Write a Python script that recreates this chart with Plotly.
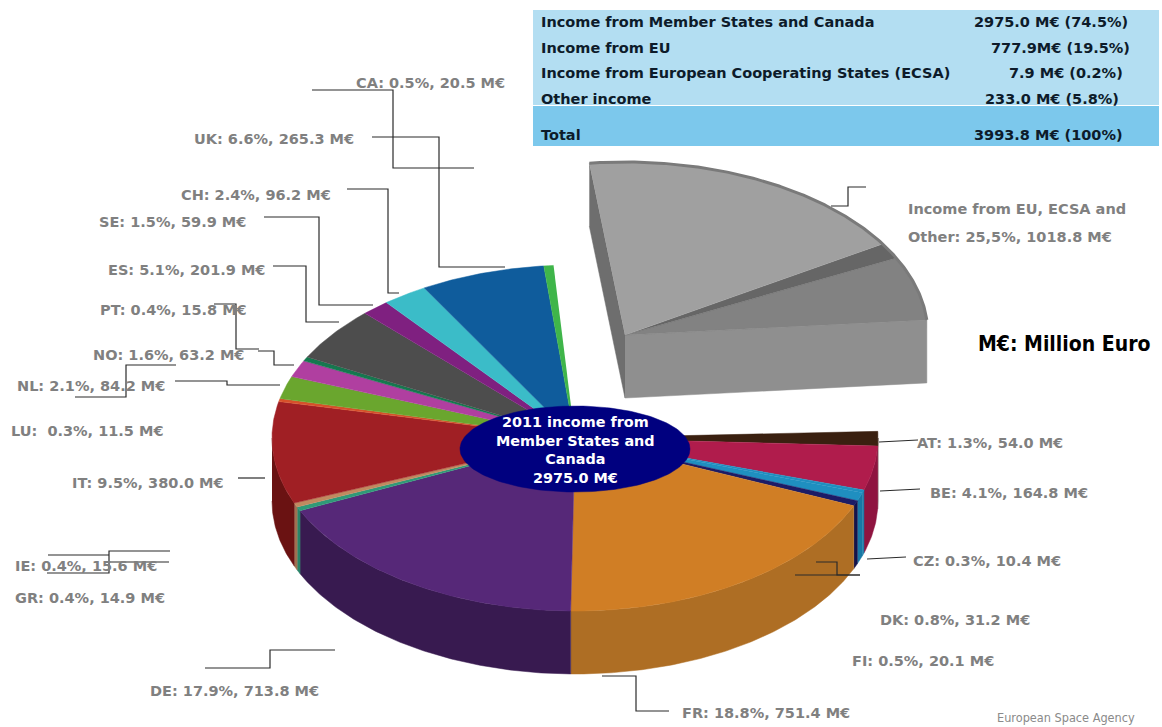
import numpy as np
import plotly.graph_objects as go

# member states, clockwise from the right hand edge of the pie
codes = ["AT", "BE", "CZ", "DK", "FI", "FR", "DE", "GR", "IE", "IT",
         "LU", "NL", "NO", "PT", "ES", "SE", "CH", "UK", "CA"]
values = [54.0, 164.8, 10.4, 31.2, 20.1, 751.4, 713.8, 14.9, 15.6, 380.0,
          11.5, 84.2, 63.2, 15.8, 201.9, 59.9, 96.2, 265.3, 20.5]
shares = ["1.3", "4.1", "0.3", "0.8", "0.5", "18.8", "17.9", "0.4", "0.4", "9.5",
          "0.3", "2.1", "1.6", "0.4", "5.1", "1.5", "2.4", "6.6", "0.5"]
total = 3993.8

# exploded grey piece, counter clockwise (drawn sizes)
grey_names = ["Other income", "ECSA", "EU"]
grey_drawn = [238, 59, 721]

table_names = ["Income from Member States and Canada", "Income from EU",
               "Income from European Cooperating States (ECSA)", "Other income", "Total"]
table_values = ["2975.0 M€ (74.5%)", "777.9M€ (19.5%)", "7.9 M€ (0.2%)",
                "233.0 M€ (5.8%)", "3993.8 M€ (100%)"]
center_text = "2011 income from<br>Member States and<br>Canada<br>2975.0 M€"

top_colors = ["#3a2010", "#b01c4c", "#1f8fc0", "#1f8fc0", "#1c1c66", "#d07e25", "#562878",
              "#2f9a78", "#c08a60", "#a01f24", "#d8502a", "#6aa62e", "#b03fa0", "#15784f",
              "#4d4d4d", "#7f2080", "#3bbcc8", "#0f5c9c", "#3fb54a"]
side_colors = ["#2a1608", "#8f1440", "#1878a5", "#1878a5", "#14144c", "#ae6e24", "#381a50",
               "#2a8468", "#a07050", "#6a1212", "#a03a20", "#55851f", "#8c3080", "#105c3c",
               "#3a3a3a", "#601860", "#2c8f98", "#0a4474", "#2f8a38"]
grey_top = ["#828282", "#666666", "#a0a0a0"]

label_pos = {"CA": (356, 83), "UK": (194, 139), "CH": (181, 195), "SE": (99, 222), "ES": (108, 270),
             "PT": (100, 310), "NO": (93, 355), "NL": (17, 386), "LU": (11, 431), "IT": (72, 483),
             "IE": (15, 566), "GR": (15, 598), "DE": (150, 691), "FR": (682, 713), "FI": (852, 661),
             "DK": (880, 620), "CZ": (913, 561), "BE": (930, 493), "AT": (917, 443)}
table_rows_y = [22, 48, 73, 99, 135]
table_val_x = [974, 991, 1009, 985, 974]

leaders = [
    [(312, 90), (393, 90), (393, 168), (474, 168)],
    [(372, 137), (439, 137), (439, 267), (505, 267)],
    [(347, 189), (388, 189), (388, 293), (399, 293)],
    [(264, 217), (319, 217), (319, 305), (373, 305)],
    [(273, 266), (306, 266), (306, 322), (339, 322)],
    [(214, 304), (236, 304), (236, 349), (259, 349)],
    [(258, 351), (274, 351), (274, 365), (294, 365)],
    [(176, 365), (126, 365), (126, 397), (75, 397)],
    [(175, 381), (227, 381), (227, 385), (280, 385)],
    [(238, 478), (265, 478)],
    [(48, 555), (109, 555)],
    [(170, 551), (109, 551), (109, 573), (47, 573)],
    [(110, 562), (169, 562)],
    [(205, 668), (270, 668), (270, 650), (335, 650)],
    [(602, 676), (636, 676), (636, 711), (669, 711)],
    [(879, 442), (918, 440)],
    [(880, 491), (920, 489)],
    [(867, 559), (906, 557)],
    [(816, 562), (837, 562), (837, 575), (860, 575)],
    [(795, 575), (860, 575)],
    [(831, 206), (848, 206), (848, 187), (866, 187)],
]

CX, CY = 575, 438
RX, RY = 303, 173
DEPTH = 63
START = 2.2


def ell(deg, cx=CX, cy=CY):
    t = np.radians(deg)
    return cx + RX * np.cos(t), cy - RY * np.sin(t)


def arc(a0, a1, cx=CX, cy=CY):
    n = max(int(abs(a1 - a0) * 2), 2)
    return ell(np.linspace(a0, a1, n), cx, cy)


def poly(fig, x, y, color):
    fig.add_trace(go.Scatter(x=list(x), y=list(y), mode="lines", fill="toself", fillcolor=color,
                             line=dict(color=color, width=0.5), hoverinfo="skip", showlegend=False))


def side(fig, a0, a1, color, cx=CX, cy=CY):
    # outer wall of the disc for the part of the arc facing the viewer
    lo, hi = max(min(a0, a1), -180), min(max(a0, a1), 0)
    if lo >= hi:
        return
    x, y = arc(lo, hi, cx, cy)
    poly(fig, np.r_[x, x[::-1]], np.r_[y, y[::-1] + DEPTH], color)


fig = go.Figure()

# exploded piece
GX, GY = 625, 335
g_angles = 5 + np.r_[0, np.cumsum(grey_drawn)] / total * 360
gx0, gy0 = ell(g_angles[-1], GX, GY)
poly(fig, [gx0, GX, GX, gx0], [gy0, GY, GY + DEPTH, gy0 + DEPTH], "#6e6e6e")
rx0, ry0 = ell(g_angles[0], GX, GY)
poly(fig, [GX, rx0, rx0, GX], [GY, ry0, ry0 + DEPTH, GY + DEPTH], "#8f8f8f")
for i in range(len(grey_drawn)):
    x, y = arc(g_angles[i], g_angles[i + 1], GX, GY)
    poly(fig, np.r_[GX, x], np.r_[GY, y], grey_top[i])
x, y = arc(g_angles[0], g_angles[-1], GX, GY)
fig.add_trace(go.Scatter(x=x, y=y, mode="lines", line=dict(color="#7a7a7a", width=3),
                         hoverinfo="skip", showlegend=False))

# main pie
angles = START - np.r_[0, np.cumsum(values)] / total * 360
for i in range(len(values)):
    side(fig, angles[i], angles[i + 1], side_colors[i])
for i in range(len(values)):
    x, y = arc(angles[i], angles[i + 1])
    poly(fig, np.r_[CX, x], np.r_[CY, y], top_colors[i])

# navy badge in the middle
t = np.radians(np.linspace(0, 360, 181))
poly(fig, 575 + 115 * np.cos(t), 449 + 43 * np.sin(t), "#00007f")

shapes = [
    dict(type="rect", x0=533, x1=1159, y0=10, y1=105, fillcolor="#b3def2", line_width=0, layer="below"),
    dict(type="rect", x0=533, x1=1159, y0=106, y1=146, fillcolor="#7cc8ec", line_width=0, layer="below"),
]
for pts in leaders:
    path = "M " + " L ".join(f"{a},{b}" for a, b in pts)
    shapes.append(dict(type="path", path=path, line=dict(color="#2b2b2b", width=1.2)))

GREY = dict(family="DejaVu Sans", size=14.5, color="#808080", weight="bold")
TABLE = dict(family="DejaVu Sans", size=14.5, color="#0d1b2a", weight="bold")


def note(x, y, text, font, anchor="left"):
    # annotations sit about 2px inside their anchor, pull left aligned ones back
    return dict(x=x, y=y, text=text, showarrow=False, xanchor=anchor, yanchor="middle", font=font,
                align="center", xshift=-2 if anchor == "left" else 0)


notes = []
for code, val, sh in zip(codes, values, shares):
    gap = "  " if code == "LU" else " "
    notes.append(note(*label_pos[code], f"{code}:{gap}{sh}%, {val:.1f} M€", GREY))
notes.append(note(908, 209, "Income from EU, ECSA and", GREY))
notes.append(note(908, 237, "Other: 25,5%, 1018.8 M€", GREY))
for name, val, ry, vx in zip(table_names, table_values, table_rows_y, table_val_x):
    notes.append(note(541, ry, name, TABLE))
    notes.append(note(vx, ry, val, TABLE))
notes.append(note(575, 450, center_text, dict(family="DejaVu Sans", size=14.4, color="white", weight="bold"), "center"))
notes.append(note(978, 344, "M€: Million Euro", dict(family="DejaVu Sans Condensed", size=21, color="black", weight="bold")))
notes.append(note(997, 717, "European Space Agency", dict(family="DejaVu Sans Condensed", size=12.6, color="#8a8a8a")))

fig.update_layout(
    width=1162, height=727, margin=dict(l=0, r=0, t=0, b=0),
    paper_bgcolor="white", plot_bgcolor="white", showlegend=False,
    xaxis=dict(range=[0, 1162], visible=False, fixedrange=True),
    yaxis=dict(range=[727, 0], visible=False, fixedrange=True),
    shapes=shapes, annotations=notes,
)
fig.write_html("out.html", config=dict(displayModeBar=False),
               post_script="document.body.style.margin='0';document.body.style.overflow='hidden';")
